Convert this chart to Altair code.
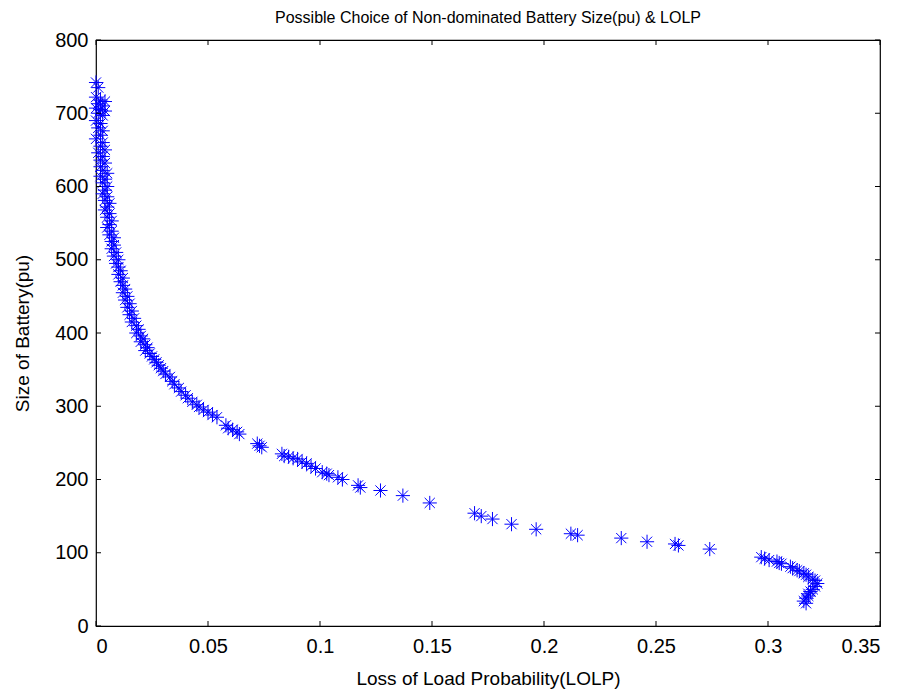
import altair as alt
import pandas as pd

lolp = [0.000, 0.001, 0.000, 0.002, 0.004, 0.001, 0.003, 0.000, 0.002, 0.004, 0.001, 0.003,
        0.000, 0.002, 0.001, 0.003, 0.002, 0.000, 0.003, 0.002, 0.004, 0.001, 0.003, 0.002,
        0.004, 0.002, 0.003, 0.005, 0.002, 0.004, 0.003, 0.005, 0.004, 0.003, 0.005, 0.004,
        0.006, 0.005, 0.004, 0.006, 0.005, 0.007, 0.006, 0.005, 0.007, 0.006, 0.008, 0.007,
        0.008, 0.007, 0.009, 0.008, 0.010, 0.009, 0.010, 0.011, 0.010, 0.012, 0.011, 0.012,
        0.013, 0.012, 0.014, 0.013, 0.015, 0.014, 0.016, 0.015, 0.017, 0.016, 0.018, 0.019,
        0.018, 0.020, 0.021, 0.020, 0.022, 0.023, 0.022, 0.024, 0.025, 0.026, 0.027, 0.028,
        0.029, 0.030, 0.031, 0.033, 0.034, 0.035, 0.037, 0.038, 0.040, 0.041, 0.043, 0.045,
        0.046, 0.048, 0.050, 0.052, 0.054, 0.058, 0.059, 0.061, 0.063, 0.064, 0.072, 0.073,
        0.074, 0.083, 0.084, 0.086, 0.088, 0.090, 0.092, 0.094, 0.096, 0.098, 0.101, 0.103,
        0.104, 0.108, 0.110, 0.117, 0.118, 0.127, 0.137, 0.149, 0.169, 0.172, 0.177, 0.1855,
        0.1965, 0.212, 0.215, 0.2345, 0.246, 0.2585, 0.260, 0.274, 0.297, 0.2985, 0.3005, 0.304,
        0.305, 0.306, 0.310, 0.311, 0.313, 0.314, 0.316, 0.317, 0.318, 0.320, 0.321, 0.322,
        0.321, 0.320, 0.319, 0.318, 0.318, 0.317, 0.316, 0.317]

battery = [742, 735, 722, 718, 716, 713, 710, 707, 705, 703, 700, 697,
           690, 686, 680, 676, 670, 665, 660, 655, 650, 646, 641, 636,
           632, 627, 622, 618, 614, 610, 605, 600, 595, 590, 586, 581,
           577, 572, 568, 563, 558, 553, 548, 544, 539, 534, 530, 525,
           520, 515, 510, 505, 500, 495, 490, 485, 480, 475, 470, 465,
           460, 455, 450, 445, 440, 435, 430, 425, 420, 415, 410, 405,
           400, 396, 392, 388, 384, 380, 376, 372, 368, 364, 360, 356,
           352, 348, 344, 340, 334, 330, 325, 320, 315, 311, 306, 302,
           299, 295, 292, 288, 285, 274, 270, 268, 265, 262, 249, 246,
           244, 235, 232, 231, 229, 228, 224, 222, 218, 215, 210, 208,
           206, 203, 200, 192, 189, 185, 178, 168, 154, 150, 146, 139,
           132, 126, 124, 120, 115, 112, 110, 105, 94, 92, 90, 88,
           86, 85, 81, 79, 76, 75, 72, 70, 67, 64, 62, 58,
           54, 50, 47, 44, 41, 38, 34, 31]

x_ticks = [0, 0.05, 0.1, 0.15, 0.2, 0.25, 0.3, 0.35]
y_ticks = [0, 100, 200, 300, 400, 500, 600, 700, 800]

df = pd.DataFrame({"lolp": lolp, "battery": battery})
xt = pd.DataFrame({"t": x_ticks})
yt = pd.DataFrame({"t": y_ticks})

W, H = 784, 586
FONT = "Liberation Sans"
STAR = "M-1,0L1,0M0,-1L0,1M-0.72,-0.72L0.72,0.72M-0.72,0.72L0.72,-0.72"

xscale = alt.Scale(domain=[0, 0.35], nice=False, zero=False)
yscale = alt.Scale(domain=[0, 800], nice=False, zero=False)

points = alt.Chart(df).mark_point(
    shape=STAR, filled=False, color="#0000ff", size=200, strokeWidth=1, opacity=1
).encode(
    x=alt.X("lolp:Q", scale=xscale,
            axis=alt.Axis(values=x_ticks, format="~g", title="Loss of Load Probability(LOLP)",
                          grid=False, domain=False, tickSize=0, labelPadding=10,
                          titlePadding=13)),
    y=alt.Y("battery:Q", scale=yscale,
            axis=alt.Axis(values=y_ticks, title="Size of Battery(pu)", grid=False,
                          domain=False, tickSize=0, labelPadding=8, titlePadding=22)),
)

tick_len = 5
bottom_ticks = alt.Chart(xt).mark_rule(color="black", strokeWidth=1).encode(
    x=alt.X("t:Q", scale=xscale), y=alt.value(H), y2=alt.value(H - tick_len))
top_ticks = alt.Chart(xt).mark_rule(color="black", strokeWidth=1).encode(
    x=alt.X("t:Q", scale=xscale), y=alt.value(0), y2=alt.value(tick_len))
left_ticks = alt.Chart(yt).mark_rule(color="black", strokeWidth=1).encode(
    y=alt.Y("t:Q", scale=yscale), x=alt.value(0), x2=alt.value(tick_len))
right_ticks = alt.Chart(yt).mark_rule(color="black", strokeWidth=1).encode(
    y=alt.Y("t:Q", scale=yscale), x=alt.value(W), x2=alt.value(W - tick_len))

chart = alt.layer(points, bottom_ticks, top_ticks, left_ticks, right_ticks).properties(
    width=W, height=H,
    title=alt.Title("Possible Choice of Non-dominated Battery Size(pu) & LOLP",
                    fontSize=16, font=FONT, fontWeight="normal", color="black",
                    anchor="middle", frame="group", offset=4),
    autosize=alt.AutoSizeParams(type="none"),
    padding={"left": 88, "top": 32, "right": 5, "bottom": 64},
).configure_view(
    stroke="black", strokeWidth=1.2
).configure_axis(
    labelFont=FONT, titleFont=FONT, labelFontSize=20, titleFontSize=19,
    labelColor="black", titleColor="black", titleFontWeight="normal"
)

chart.save("out.html", embed_options={"renderer": "svg", "actions": False})
